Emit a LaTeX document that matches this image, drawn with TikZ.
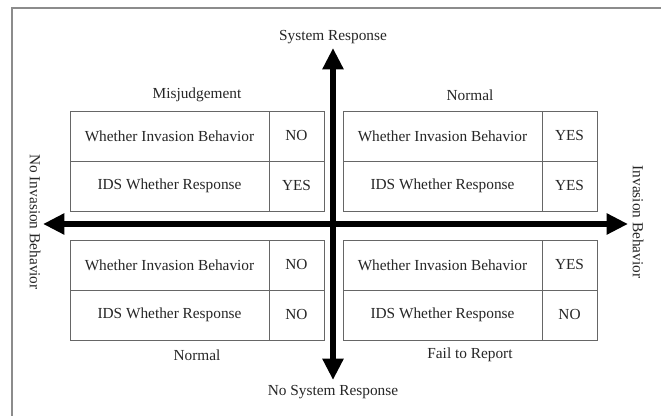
\documentclass[tikz,border=0pt]{standalone}
\usepackage{fontspec}
\setmainfont{Liberation Serif}
\usetikzlibrary{arrows.meta}
\definecolor{frameC}{gray}{0.55}
\definecolor{gridC}{gray}{0.40}
\definecolor{inkC}{gray}{0.15}

\begin{document}
\begin{tikzpicture}[
  x=0.75pt, y=-0.75pt,
  font=\fontsize{11.5}{13}\selectfont,
  txt/.style    ={text=inkC, inner sep=0pt},
  side/.style   ={txt, rotate=-90},
  wide/.style   ={draw=gridC, line width=0.6pt, inner sep=0pt, text=inkC,
                  minimum width=149.25pt, minimum height=37.5pt},
  narrow/.style ={wide, minimum width=41.25pt},
  axis/.style   ={line width=4.5pt,
                  {Triangle[length=16pt,width=15pt]}-{Triangle[length=16pt,width=15pt]}},
]

% ---- canvas ------------------------------------------------------------------
\fill[white] (0,0) rectangle (661,416);
\useasboundingbox (0,0) rectangle (661,416);
\draw[frameC, line width=1.2pt] (12,416) -- (12,8) -- (661,8);

% ---- geometry ----------------------------------------------------------------
\def\cA{169.5} \def\cB{296.5}   % left tables
\def\cC{442.5} \def\cD{569.5}   % right tables
\def\rA{136}   \def\rB{186}     % upper tables
\def\rC{265}   \def\rD{315}     % lower tables

% ---- upper left: misjudgement --------------------------------------------------
\node[wide]   (ulq1) at (\cA,\rA) {Whether Invasion Behavior};
\node[narrow] (ula1) at (\cB,\rA) {NO};
\node[wide]   (ulq2) at (\cA,\rB) {IDS Whether Response};
\node[narrow] (ula2) at (\cB,\rB) {YES};
\node[txt]    (misj) at (197,95) {Misjudgement};

% ---- upper right: normal -------------------------------------------------------
\node[wide]   (urq1) at (\cC,\rA) {Whether Invasion Behavior};
\node[narrow] (ura1) at (\cD,\rA) {YES};
\node[wide]   (urq2) at (\cC,\rB) {IDS Whether Response};
\node[narrow] (ura2) at (\cD,\rB) {YES};
\node[txt]    (normA) at (470,95) {Normal};

% ---- lower left: normal --------------------------------------------------------
\node[wide]   (llq1) at (\cA,\rC) {Whether Invasion Behavior};
\node[narrow] (lla1) at (\cB,\rC) {NO};
\node[wide]   (llq2) at (\cA,\rD) {IDS Whether Response};
\node[narrow] (lla2) at (\cB,\rD) {NO};
\node[txt]    (normB) at (197,355) {Normal};

% ---- lower right: fail to report -----------------------------------------------
\node[wide]   (lrq1) at (\cC,\rC) {Whether Invasion Behavior};
\node[narrow] (lra1) at (\cD,\rC) {YES};
\node[wide]   (lrq2) at (\cC,\rD) {IDS Whether Response};
\node[narrow] (lra2) at (\cD,\rD) {NO};
\node[txt]    (fail) at (470,355) {Fail to Report};

% ---- axes --------------------------------------------------------------------
\node[txt]  (sysres)   at (333,37)  {System Response};
\node[txt]  (nosysres) at (333,392) {No System Response};
\node[side] (noinv)    at (35,222)  {No Invasion Behavior};
\node[side] (inv)      at (638,222) {Invasion Behavior};

\coordinate (up)   at (333,48);
\coordinate (down) at (333,380);
\coordinate (west) at (43,224);
\coordinate (east) at (628,224);

\draw[axis] (down) -- (up);
\draw[axis] (west) -- (east);

\end{tikzpicture}
\end{document}
